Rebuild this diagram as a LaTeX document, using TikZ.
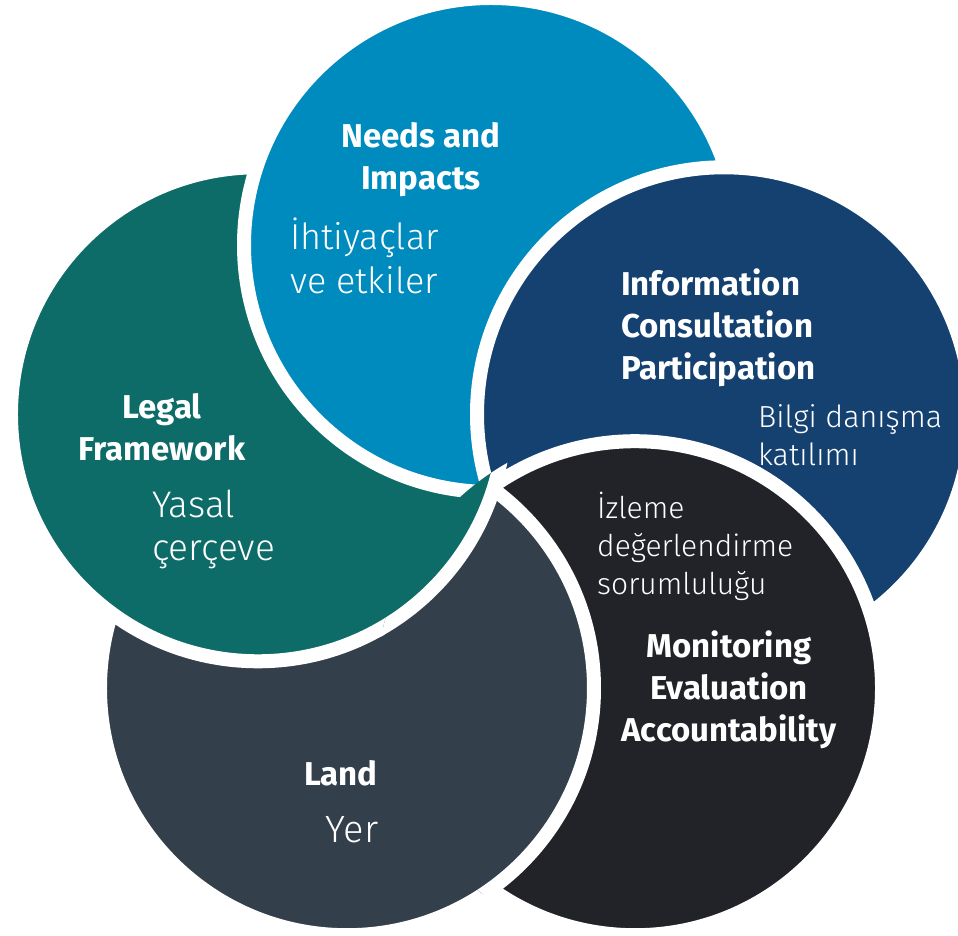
\documentclass[tikz,border=0pt]{standalone}
\usepackage{fontspec}
\usepackage{xcolor}
\definecolor{needsblue}{HTML}{008BBF}
\definecolor{infoblue}{HTML}{144170}
\definecolor{monitorblack}{HTML}{212328}
\definecolor{landgrey}{HTML}{333F4A}
\definecolor{legalteal}{HTML}{0D6B68}
\newfontfamily\headfont{Fira Sans}
\newfontfamily\trfont{Fira Sans}[UprightFont=* Light]
\usepackage{tikz}
\usetikzlibrary{positioning, calc}

\begin{document}
\begin{tikzpicture}[x=1pt, y=1pt]
        % Define styles
        \tikzstyle{petal} = [circle, draw=white, line width=14pt, minimum size=494pt, inner sep=0pt]
        \tikzstyle{head} = [text=white, font=\headfont\bfseries\fontsize{33}{42}\selectfont, align=center, inner sep=0pt, anchor=north]
        \tikzstyle{tr} = [text=white, align=left, inner sep=0pt, anchor=north west]

        \useasboundingbox (0,0) rectangle (958,935);
        \coordinate (hub) at (491,445);

        % Circles
        \node [petal, fill=landgrey] (land) at ($(hub)+(-126:245)$) {};
        \node [petal, fill=legalteal] (legal) at ($(hub)+(162:245)$) {};
        \node [petal, fill=needsblue] (needs) at ($(hub)+(90:245)$) {};
        \node [petal, fill=infoblue] (info) at ($(hub)+(18:245)$) {};
        \node [petal, fill=monitorblack] (monitor) at ($(hub)+(-54:245)$) {};

        % Land over Monitoring, Legal over Land
        \begin{scope}
            \clip (monitor.center) circle [radius=256pt];
            \node [petal, fill=landgrey] (landtop) at (land.center) {};
        \end{scope}
        \begin{scope}
            \clip (monitor.center) circle [radius=259pt];
            \node [petal, fill=legalteal] (legaltop) at (legal.center) {};
        \end{scope}

        % Labels
        \node [head] (needslbl) at (421,813) {Needs and\\Impacts};
        \node [tr, font=\trfont\fontsize{36}{44}\selectfont] (needstr) at (290,717) {İhtiyaçlar\\ve etkiler};

        \node [head, align=left, anchor=north west] (infolbl) at (621,666) {Information\\Consultation\\Participation};
        \node [tr, font=\trfont\fontsize{30.5}{38}\selectfont] (infotr) at (758,531) {Bilgi danışma\\katılımı};

        \node [tr, font=\trfont\fontsize{30}{38}\selectfont] (monitortr) at (597,443) {İzleme\\değerlendirme\\sorumluluğu};
        \node [head] (monitorlbl) at (729,304) {Monitoring\\Evaluation\\Accountability};

        \node [head] (legallbl) at (162,542) {Legal\\Framework};
        \node [tr, font=\trfont\fontsize{37}{43}\selectfont] (legaltr) at (152,445) {Yasal\\çerçeve};

        \node [head] (landlbl) at (341,175) {Land};
        \node [tr, font=\trfont\fontsize{38}{44}\selectfont, anchor=north, below=30pt of landlbl, xshift=11pt] (landtr) {Yer};

    \end{tikzpicture}
\end{document}
